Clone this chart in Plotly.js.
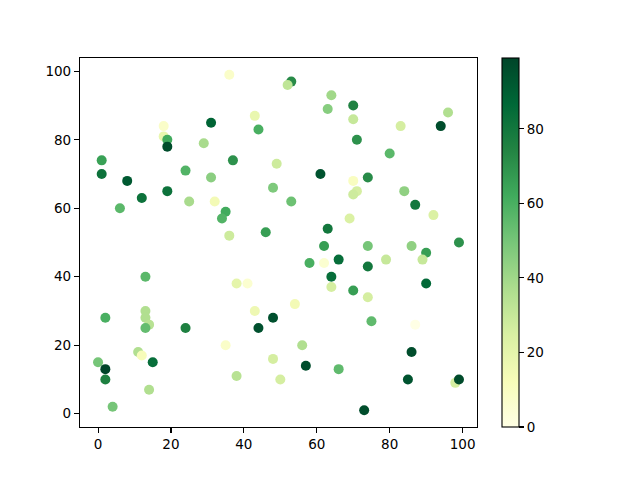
<!DOCTYPE html>
<html><head><meta charset="utf-8">
<script src="https://cdn.plot.ly/plotly-3.0.1.min.js"></script>
<style>html,body{margin:0;padding:0;background:#fff}#chart{width:640px;height:480px}</style>
</head><body><div id="chart"></div>
<script>
const xs = [36,43,44,31,18,18,19,19,29,1,1,8,37,24,31,49,48,12,19,6,25,32,35,34,36,46,
  53,52,64,70,63,70,96,94,83,71,80,61,74,70,71,70,53,84,87,92,69,63,99,
  13,38,41,13,13,14,13,2,24,43,48,44,35,11,12,15,0,2,2,14,4,38,48,50,
  62,74,86,90,58,62,66,74,79,89,64,64,70,74,90,54,75,87,56,57,66,86,85,98,99,73];
const ys = [99,87,83,85,84,81,80,78,79,74,70,68,74,71,69,73,66,63,65,60,62,62,59,57,52,53,
  97,96,93,90,89,86,88,84,84,80,76,70,69,68,65,64,62,65,61,58,57,54,50,
  40,38,38,30,28,26,25,28,25,30,28,25,20,18,17,15,15,13,10,7,2,11,16,10,
  49,49,49,47,44,44,45,43,45,45,40,37,36,34,38,32,27,26,20,14,13,18,10,9,10,1];
const cs = [8,18,60,88,8,18,62,96,38,65,82,92,70,58,45,28,48,82,82,56,38,14,62,58,28,66,
  72,32,40,75,46,30,36,96,26,70,56,94,72,10,26,28,52,44,80,24,24,80,70,
  56,20,6,36,36,34,54,60,76,16,95,95,8,36,12,84,50,99,76,36,50,34,26,26,
  66,50,44,66,60,6,84,80,30,30,84,26,66,26,86,14,55,0,36,96,55,96,94,26,97,96];

const ylgn = [[0,'#ffffe5'],[0.125,'#f7fcb9'],[0.25,'#d9f0a3'],[0.375,'#addd8e'],[0.5,'#78c679'],
  [0.625,'#41ab5d'],[0.75,'#238443'],[0.875,'#006837'],[1,'#004529']];

const axisCommon = {showline:true, mirror:true, linecolor:'#000', linewidth:1.1, ticks:'outside',
  ticklen:5, tickwidth:1.1, tickcolor:'#000', showgrid:false, zeroline:false,
  tickfont:{family:'DejaVu Sans', size:13.5, color:'#000'}};

Plotly.newPlot('chart', [{
  type:'scatter', mode:'markers', x:xs, y:ys,
  marker:{size:10, color:cs, colorscale:ylgn, cmin:0, cmax:99, line:{width:0},
    colorbar:{x:1.063, xanchor:'left', xpad:0, ypad:0, y:0.5, yanchor:'middle', len:1, lenmode:'fraction',
      thickness:17, thicknessmode:'pixels', outlinewidth:1.1, outlinecolor:'#000',
      ticks:'outside', ticklen:5, tickwidth:1.1, tickcolor:'#000', tick0:0, dtick:20,
      tickfont:{family:'DejaVu Sans', size:13.5, color:'#000'}}}
}], {
  width:640, height:480, margin:{l:80, r:163, t:58, b:53},
  paper_bgcolor:'#fff', plot_bgcolor:'#fff', showlegend:false,
  xaxis:Object.assign({range:[-4.95,103.95], tickvals:[0,20,40,60,80,100]}, axisCommon),
  yaxis:Object.assign({range:[-3.9,103.9], tickvals:[0,20,40,60,80,100]}, axisCommon)
}, {staticPlot:true});
</script></body></html>
